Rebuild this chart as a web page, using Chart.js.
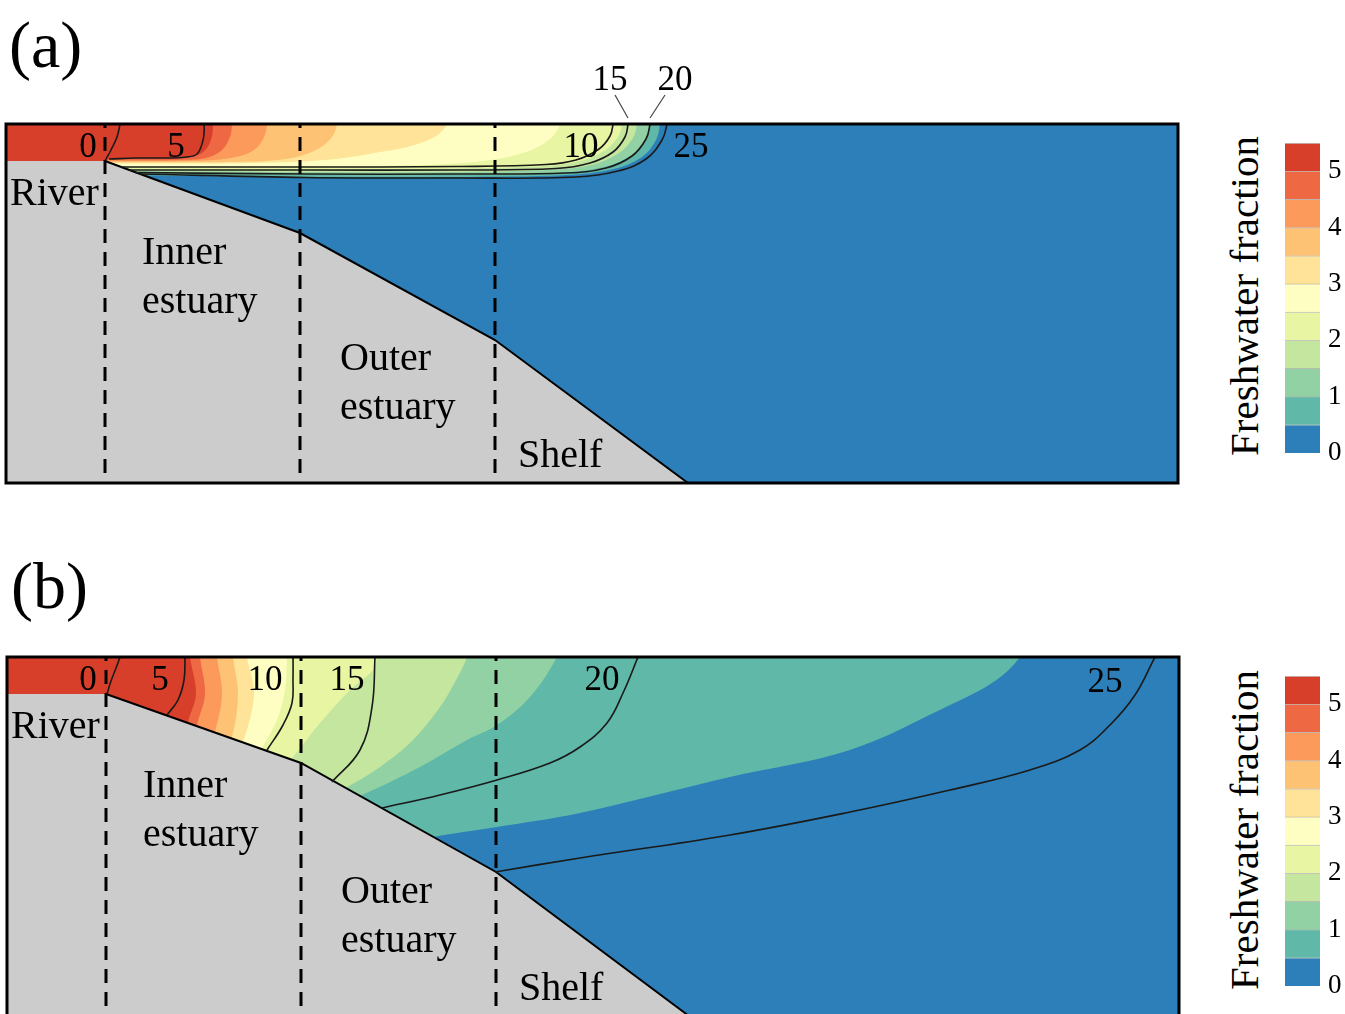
<!DOCTYPE html>
<html>
<head>
<meta charset="utf-8">
<script src="https://cdn.jsdelivr.net/npm/chart.js@4/dist/chart.umd.min.js"></script>
<style>
  body { margin: 0; background: #fff; width: 1345px; height: 1014px; overflow: hidden; position: relative; font-family: "Liberation Serif", serif; }
  canvas { position: absolute; }
  .tag { position: absolute; font-size: 66px; line-height: 1; }
  .cbtitle { position: absolute; font-size: 41px; line-height: 1; white-space: nowrap; transform: translate(-50%, -50%) rotate(-90deg); }
</style>
</head>
<body>
<div class="tag" style="left:9px; top:12px">(a)</div>
<div class="tag" style="left:11px; top:553px">(b)</div>
<canvas id="panelA" width="1190" height="500" style="left:0; top:0"></canvas>
<canvas id="panelB" width="1190" height="500" style="left:1px; top:533px"></canvas>
<canvas id="barA" width="70" height="340" style="left:1275px; top:130px"></canvas>
<canvas id="barB" width="70" height="340" style="left:1275px; top:663px"></canvas>
<div class="cbtitle" style="left:1244px; top:296px">Freshwater fraction</div>
<div class="cbtitle" style="left:1244px; top:830px">Freshwater fraction</div>
<script>
// section axes: distance along the section (x) and depth (down), same for both panels
const X_MAX = 117.2;
const DEPTH_MAX = 35.9;

// colour levels of the freshwater fraction, lowest first
const binEdges = [0, 0.5, 1, 1.5, 2, 2.5, 3, 3.5, 4, 4.5, 5, 5.5];
const fractionTicks = [0, 1, 2, 3, 4, 5];
const levelColors = ['#2c7fb8', '#5fb8a8', '#92d1a3', '#c4e69f', '#e8f5a3', '#fefec2',
                     '#fee398', '#fdc273', '#fb9a5a', '#ef6844', '#d83f2a'];

// bottom profile
const seabedX = [0, 9.9, 29.4, 48.9, 68.2];
const seabedDepthA = [3.7, 3.7, 10.9, 21.6, 35.9];
const seabedDepthB = [3.7, 3.7, 10.6, 21.5, 35.9];
const dividerX = [9.9, 29.4, 48.9];
const regionNames = ['River', 'Inner', 'estuary', 'Outer', 'estuary', 'Shelf'];

// edges of the fraction >= level areas (level 1 .. 10), from the surface down
const bandsA = [
  [[65.4,0],[65.0,1.6],[63.6,3.3],[60.8,4.5],[56,5.1],[45,5.3],[30,5.3],[18,5.2],[12,5.15],[-1,5.15]],
  [[64.4,0],[64.0,1.5],[62.6,3.1],[59.8,4.3],[55,4.9],[45,5.1],[30,5.1],[18,5.0],[12,4.95],[-1,4.95]],
  [[63.1,0],[62.7,1.4],[61.3,2.9],[58.5,4.1],[54,4.6],[45,4.8],[30,4.8],[18,4.75],[12,4.7],[-1,4.7]],
  [[61.6,0],[61.2,1.3],[59.8,2.7],[57,3.8],[52,4.3],[40,4.5],[25,4.5],[12,4.5],[-1,4.5]],
  [[55.4,0],[54.5,1.4],[52.3,2.7],[48.5,3.6],[42,4.1],[30,4.25],[12,4.25],[-1,4.25]],
  [[44.1,0],[43,1.2],[40.5,2.2],[37.4,2.8],[33,3.5],[27,3.85],[18,3.95],[-1,3.95]],
  [[33.1,0],[32.6,1.3],[31,2.6],[28,3.5],[22,3.8],[12,3.82],[-1,3.82]],
  [[26.1,0],[25.8,1.3],[24.8,2.6],[22.5,3.4],[18,3.7],[12,3.72],[-1,3.72]],
  [[22.6,0],[22.4,1.3],[21.6,2.6],[20,3.4],[17,3.6],[12,3.62],[-1,3.62]],
  [[20.7,0],[20.6,1.2],[20.1,2.4],[19.2,3.1],[17.5,3.35],[12,3.45],[10.3,3.5],[9.9,3.7],[-1,3.7]]
];
const bandsB = [
  [[101.3,0],[98.8,2.4],[94.3,4.8],[84.3,9.3],[72.3,12.0],[57.3,15.6],[49.0,17.0],[42.6,18.0],[36,19.5]],
  [[55.0,0],[52.3,4.0],[49.0,6.8],[46.0,8.3],[41.3,11.0],[35.5,13.8],[30,16]],
  [[46.0,0],[44.8,2.5],[43.3,5.0],[40.6,8.3],[37.3,11.0],[34.0,13.0],[29,15.5]],
  [[37.0,0],[36.6,1.3],[34.3,3.3],[31.3,6.6],[28.6,10.0],[26,13]],
  [[28.0,0],[27.8,3.3],[27.0,6.3],[25.5,9.1],[24,12]],
  [[24.0,0],[24.7,3.7],[23.6,8.5],[22,12]],
  [[22.6,0],[23.1,3.7],[22.5,8.0],[21,12]],
  [[21.0,0],[21.5,3.7],[20.8,7.5],[19.5,12]],
  [[19.3,0],[19.8,3.7],[19.0,6.8],[18,12]],
  [[18.3,0],[18.9,3.7],[18.1,6.5],[17,12]]
];

// salinity contours
const contourLevels = [0, 5, 10, 15, 20, 25];
const contoursA = [
  [[9.9,3.7],[10.5,2.6],[11.1,1.3],[11.4,0],[11.5,-0.5]],
  [[10.3,3.5],[13,3.4],[16,3.4],[18.1,3.3],[19.1,3.0],[19.6,2.0],[19.8,1.0],[19.8,-0.5]],
  [[11.5,4.3],[20,4.3],[30,4.3],[45,4.25],[54,4.05],[57,3.6],[59.3,2.5],[60.4,1.2],[60.7,0],[60.7,-0.5]],
  [[12.3,4.6],[30,4.6],[45,4.6],[55,4.45],[58.4,3.9],[60.7,2.8],[61.9,1.3],[62.2,0],[62.2,-0.5]],
  [[12.9,4.85],[30,5.0],[45,5.0],[56,4.9],[60,4.4],[62.6,3.2],[64.0,1.5],[64.4,0],[64.4,-0.5]],
  [[13.4,5.0],[30,5.35],[45,5.4],[57,5.3],[61.2,4.7],[64,3.5],[65.6,1.6],[66.1,0],[66.1,-0.5]]
];
const contoursB = [
  [[10.0,3.7],[10.4,2.4],[10.9,1.1],[11.3,0],[11.4,-0.5]],
  [[16.0,5.8],[17.1,4.3],[17.7,2.3],[17.8,0],[17.8,-0.5]],
  [[26.0,9.3],[27.6,6.8],[28.5,4.6],[28.6,2.3],[28.6,-0.5]],
  [[32.5,12.5],[35.3,9.3],[36.5,5.0],[36.8,0],[36.8,-0.5]],
  [[37.5,15.1],[43.3,13.8],[49.0,12.3],[54.3,10.6],[57.3,9.0],[60.0,6.6],[61.6,3.6],[63.1,0],[63.3,-0.5]],
  [[48.8,21.5],[57.3,20.1],[72.3,17.8],[84.3,15.5],[94.3,13.3],[102.3,11.3],[107.3,9.3],[110.3,6.8],[112.8,3.8],[114.8,0],[115.1,-0.5]]
];

// where the text goes (data units: x, depth of baseline)
const regionLabelPos = [[0.4,8.1],[13.6,14.0],[13.6,18.9],[33.4,24.6],[33.4,29.5],[51.2,34.3]];
const contourLabelPosA = [[8.2,3.3],[17.0,3.3],[57.5,3.3],[60.4,-3.4],[66.9,-3.4],[68.5,3.3]];
const contourLabelPosB = [[8.1,3.3],[15.3,3.3],[25.8,3.3],[34.0,3.3],[59.5,3.3],[109.8,3.5]];
const leaderStartA = {3: [60.9,-2.9], 4: [65.9,-2.9]};

const pts = arr => arr.map(p => ({x: p[0], y: p[1]}));

function buildDatasets(bands, contours, seabedDepth) {
  const ds = [];
  // frame-wide sea, lowest level
  ds.push({data: pts([[-1,-1],[X_MAX+1,-1],[X_MAX+1,DEPTH_MAX+1],[-1,DEPTH_MAX+1]]),
           fill: 'shape', backgroundColor: levelColors[0], borderWidth: 0, tension: 0, order: 30});
  bands.forEach((b, i) => {
    const first = b[0], last = b[b.length - 1];
    const poly = [[-1,-1],[first[0],-1]].concat(b, [[-1,last[1]]]);
    ds.push({data: pts(poly), fill: 'shape', backgroundColor: levelColors[i + 1],
             borderWidth: 0, tension: 0.35, order: 29 - i});
  });
  const bed = seabedX.map((x, i) => [x, seabedDepth[i]]);
  const n = bed.length;
  const ext = [bed[n-1][0] + (bed[n-1][0] - bed[n-2][0]) * 0.1, DEPTH_MAX + 1];
  ds.push({data: pts([[-1, seabedDepth[0]]].concat(bed, [ext, [-1, DEPTH_MAX + 1]])),
           fill: 'shape', backgroundColor: '#cccccc', borderWidth: 0, tension: 0, order: 10});
  ds.push({data: pts(bed.slice(1).concat([ext])), fill: false, borderColor: '#000',
           borderWidth: 2, tension: 0, order: 9});
  contours.forEach(c => {
    ds.push({data: pts(c), fill: false, borderColor: '#1a1a1a', borderWidth: 1.6,
             tension: 0.4, order: 5});
  });
  dividerX.forEach(x => {
    ds.push({data: pts([[x,-1],[x,DEPTH_MAX+1]]), fill: false, borderColor: '#000',
             borderWidth: 3, borderDash: [14, 9], tension: 0, order: 2});
  });
  return ds;
}

function makeTextPlugin(contours, contourPos, leaders) {
  return {
    id: 'sectionText',
    afterDraw(chart) {
      const {ctx, scales: {x, y}} = chart;
      ctx.save();
      ctx.fillStyle = '#000';
      ctx.textBaseline = 'alphabetic';
      ctx.textAlign = 'left';
      ctx.font = '40px "Liberation Serif"';
      regionNames.forEach((name, i) => {
        const p = regionLabelPos[i];
        ctx.fillText(name, x.getPixelForValue(p[0]), y.getPixelForValue(p[1]));
      });
      ctx.textAlign = 'center';
      ctx.font = '35px "Liberation Serif"';
      contourLevels.forEach((lev, i) => {
        const p = contourPos[i];
        ctx.fillText(String(lev), x.getPixelForValue(p[0]), y.getPixelForValue(p[1]));
      });
      ctx.strokeStyle = '#444';
      ctx.lineWidth = 1.2;
      Object.keys(leaders).forEach(k => {
        const s = leaders[k];
        const top = contours[k].find(p => p[1] === 0);
        ctx.beginPath();
        ctx.moveTo(x.getPixelForValue(s[0]), y.getPixelForValue(s[1]));
        ctx.lineTo(x.getPixelForValue(top[0]), y.getPixelForValue(-0.6));
        ctx.stroke();
      });
      ctx.restore();
    }
  };
}

const framePlugin = {
  id: 'frame',
  afterDatasetsDraw(chart) {
    const {ctx, chartArea: a} = chart;
    ctx.save();
    ctx.strokeStyle = '#000';
    ctx.lineWidth = 3;
    ctx.strokeRect(a.left, a.top, a.right - a.left, a.bottom - a.top);
    ctx.restore();
  }
};

function sectionChart(id, bands, contours, seabedDepth, contourPos, leaders) {
  return new Chart(document.getElementById(id), {
    type: 'line',
    data: {datasets: buildDatasets(bands, contours, seabedDepth)},
    options: {
      responsive: false,
      animation: false,
      events: [],
      layout: {padding: {top: 124, bottom: 17, left: 6, right: 12}},
      elements: {point: {radius: 0}},
      scales: {
        x: {type: 'linear', min: 0, max: X_MAX, display: false},
        y: {type: 'linear', min: 0, max: DEPTH_MAX, reverse: true, display: false}
      },
      plugins: {legend: {display: false}, tooltip: {enabled: false}}
    },
    plugins: [framePlugin, makeTextPlugin(contours, contourPos, leaders)]
  });
}

function colorbar(id) {
  return new Chart(document.getElementById(id), {
    type: 'bar',
    data: {
      labels: [''],
      datasets: levelColors.map((c, i) => ({
        data: [binEdges[i + 1] - binEdges[i]],
        backgroundColor: c,
        borderColor: 'rgba(90,90,90,0.35)',
        borderWidth: {top: 1, bottom: 0, left: 0, right: 0},
        borderSkipped: false,
        barPercentage: 1,
        categoryPercentage: 1
      }))
    },
    options: {
      responsive: false,
      animation: false,
      events: [],
      layout: {padding: {top: 13, bottom: 17, left: 10, right: 0}},
      scales: {
        x: {stacked: true, display: false},
        y: {
          stacked: true, position: 'right', min: 0, max: binEdges[binEdges.length - 1],
          grid: {display: false, drawTicks: false},
          border: {display: false},
          afterFit: axis => { axis.width = 25; axis.paddingTop = 0; axis.paddingBottom = 0; },
          afterBuildTicks: axis => { axis.ticks = fractionTicks.map(v => ({value: v})); },
          ticks: {padding: 8, color: '#000', font: {family: '"Liberation Serif"', size: 27}}
        }
      },
      plugins: {legend: {display: false}, tooltip: {enabled: false}}
    }
  });
}

sectionChart('panelA', bandsA, contoursA, seabedDepthA, contourLabelPosA, leaderStartA);
sectionChart('panelB', bandsB, contoursB, seabedDepthB, contourLabelPosB, {});
colorbar('barA');
colorbar('barB');
</script>
</body>
</html>
